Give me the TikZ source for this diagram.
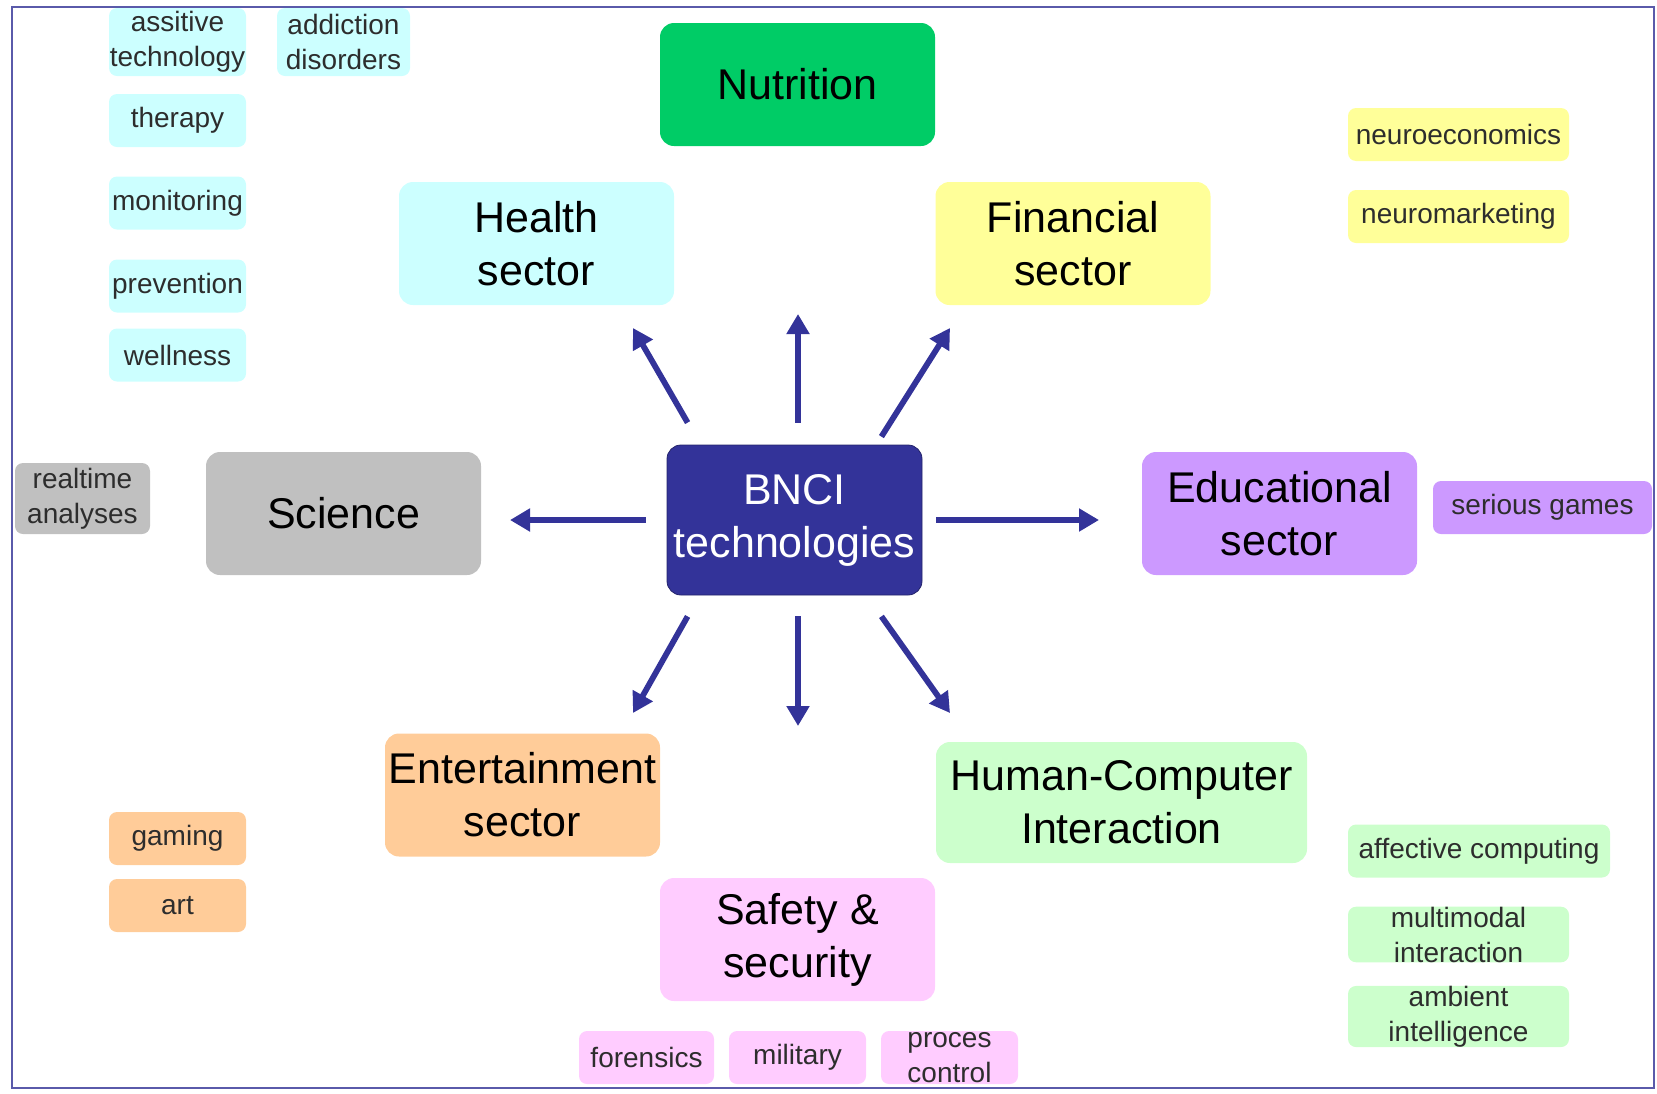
\documentclass[tikz,border=0pt]{standalone}
\usepackage{fontspec}
\setmainfont{Liberation Sans}
\usetikzlibrary{arrows.meta,positioning}
\definecolor{bnciblue}{RGB}{51,51,153}
\definecolor{nutrgreen}{RGB}{0,204,102}
\definecolor{healthcyan}{RGB}{204,255,255}
\definecolor{finyellow}{RGB}{255,255,153}
\definecolor{scigrey}{RGB}{192,192,192}
\definecolor{edupurple}{RGB}{204,153,255}
\definecolor{entorange}{RGB}{255,204,153}
\definecolor{hcigreen}{RGB}{204,255,204}
\definecolor{safepink}{RGB}{255,204,255}
\definecolor{framecol}{RGB}{90,90,170}
\definecolor{tagtext}{RGB}{45,45,45}

\begin{document}
\begin{tikzpicture}[
  x=0.5pt, y=-0.5pt,
  sector/.style={
    rectangle, rounded corners=7pt, align=center, inner sep=0pt,
    minimum width=137.5pt, minimum height=61.5pt,
    font=\fontsize{21.5}{26.5}\selectfont
  },
  tag/.style={
    rectangle, rounded corners=4pt, align=center, inner sep=0pt,
    minimum width=68.5pt, minimum height=26.5pt, text=tagtext,
    font=\fontsize{14}{17.5}\selectfont
  },
  arr/.style={-{Triangle[length=10pt,width=11pt]}, line width=2.9pt, draw=bnciblue}
]
  \useasboundingbox (0,0) rectangle (1657,1093);
  \draw[framecol, line width=1pt] (12,7) rectangle (1654,1088);

  % centre and sectors
  \node[sector, fill=bnciblue, draw=bnciblue!70!black, text=white,
        minimum width=127.5pt, minimum height=75pt] (bnci) at (794.5,520) {BNCI\\technologies};
  \node[sector, fill=nutrgreen]  (nutrition) at (797.5,84.5)  {Nutrition};
  \node[sector, fill=healthcyan] (health)    at (536.5,243.5) {Health\\sector};
  \node[sector, fill=finyellow]  (finance)   at (1073,243.5)  {Financial\\sector};
  \node[sector, fill=scigrey]    (science)   at (343.5,513.5) {Science};
  \node[sector, fill=edupurple]  (edu)       at (1279.5,513.5){Educational\\sector};
  \node[sector, fill=entorange]  (entert)    at (522.5,795)   {Entertainment\\sector};
  \node[sector, fill=hcigreen, minimum width=185.5pt, minimum height=60.5pt]
                                 (hci)       at (1121.5,802.5){Human-Computer\\Interaction};
  \node[sector, fill=safepink]   (safety)    at (797.5,939.5) {Safety \&\\security};

  % health tags
  \node[tag, fill=healthcyan, minimum height=34pt] (assist) at (177.5,42) {assitive\\technology};
  \node[tag, fill=healthcyan, minimum width=66.5pt, minimum height=34pt] (addict) at (343.5,42) {addiction\\disorders};
  \node[tag, fill=healthcyan] (therapy)    at (177.5,120.5) {therapy};
  \node[tag, fill=healthcyan] (monitor)    at (177.5,203)   {monitoring};
  \node[tag, fill=healthcyan] (prevent)    at (177.5,286)   {prevention};
  \node[tag, fill=healthcyan] (wellness)   at (177.5,355)   {wellness};

  % science, finance, education tags
  \node[tag, fill=scigrey, minimum width=67.5pt, minimum height=35.5pt] (realtime) at (82.5,498.5) {realtime\\analyses};
  \node[tag, fill=finyellow, minimum width=110.5pt] (neuroecon) at (1458.5,134.5) {neuroeconomics};
  \node[tag, fill=finyellow, minimum width=110.5pt] (neuromark) at (1458.5,216.5) {neuromarketing};
  \node[tag, fill=edupurple, minimum width=109.5pt] (serious)   at (1542.5,507.5) {serious games};

  % entertainment, hci, safety tags
  \node[tag, fill=entorange] (gaming) at (177.5,838.5) {gaming};
  \node[tag, fill=entorange] (art)    at (177.5,905.5) {art};
  \node[tag, fill=hcigreen, minimum width=131pt] (affective) at (1479,851) {affective computing};
  \node[tag, fill=hcigreen, minimum width=110.5pt] (multimod) at (1458.5,934.5)  {multimodal\\interaction};
  \node[tag, fill=hcigreen, minimum width=110.5pt] (ambient)  at (1458.5,1016.5) {ambient\\intelligence};
  \node[tag, fill=safepink, minimum width=67.5pt] (forensics) at (646.5,1057.5) {forensics};
  \node[tag, fill=safepink] (military) at (797.5,1057.5) {military};
  \node[tag, fill=safepink] (proces)   at (949.5,1057.5) {proces\\control};

  % arrow tips
  \coordinate (toHealth)  at (633,328);
  \coordinate (toNutr)    at (798,314);
  \coordinate (toFin)     at (950,328);
  \coordinate (toSci)     at (510,520);
  \coordinate (toEdu)     at (1099,520);
  \coordinate (toEnt)     at (633,713);
  \coordinate (toSafe)    at (798,726);
  \coordinate (toHci)     at (950,713);

  \draw[arr] ([xshift=10.5pt,yshift=11pt]bnci.north west)    -- (toHealth);
  \draw[arr] ([xshift=1.75pt,yshift=11pt]bnci.north)         -- (toNutr);
  \draw[arr] ([xshift=-20.5pt,yshift=4pt]bnci.north east)    -- (toFin);
  \draw[arr] ([xshift=-10.5pt]bnci.west)                     -- (toSci);
  \draw[arr] ([xshift=7pt]bnci.east)                         -- (toEdu);
  \draw[arr] ([xshift=10.5pt,yshift=-10.5pt]bnci.south west) -- (toEnt);
  \draw[arr] ([xshift=1.75pt,yshift=-10.5pt]bnci.south)      -- (toSafe);
  \draw[arr] ([xshift=-20.5pt,yshift=-10.5pt]bnci.south east)-- (toHci);
\end{tikzpicture}
\end{document}
